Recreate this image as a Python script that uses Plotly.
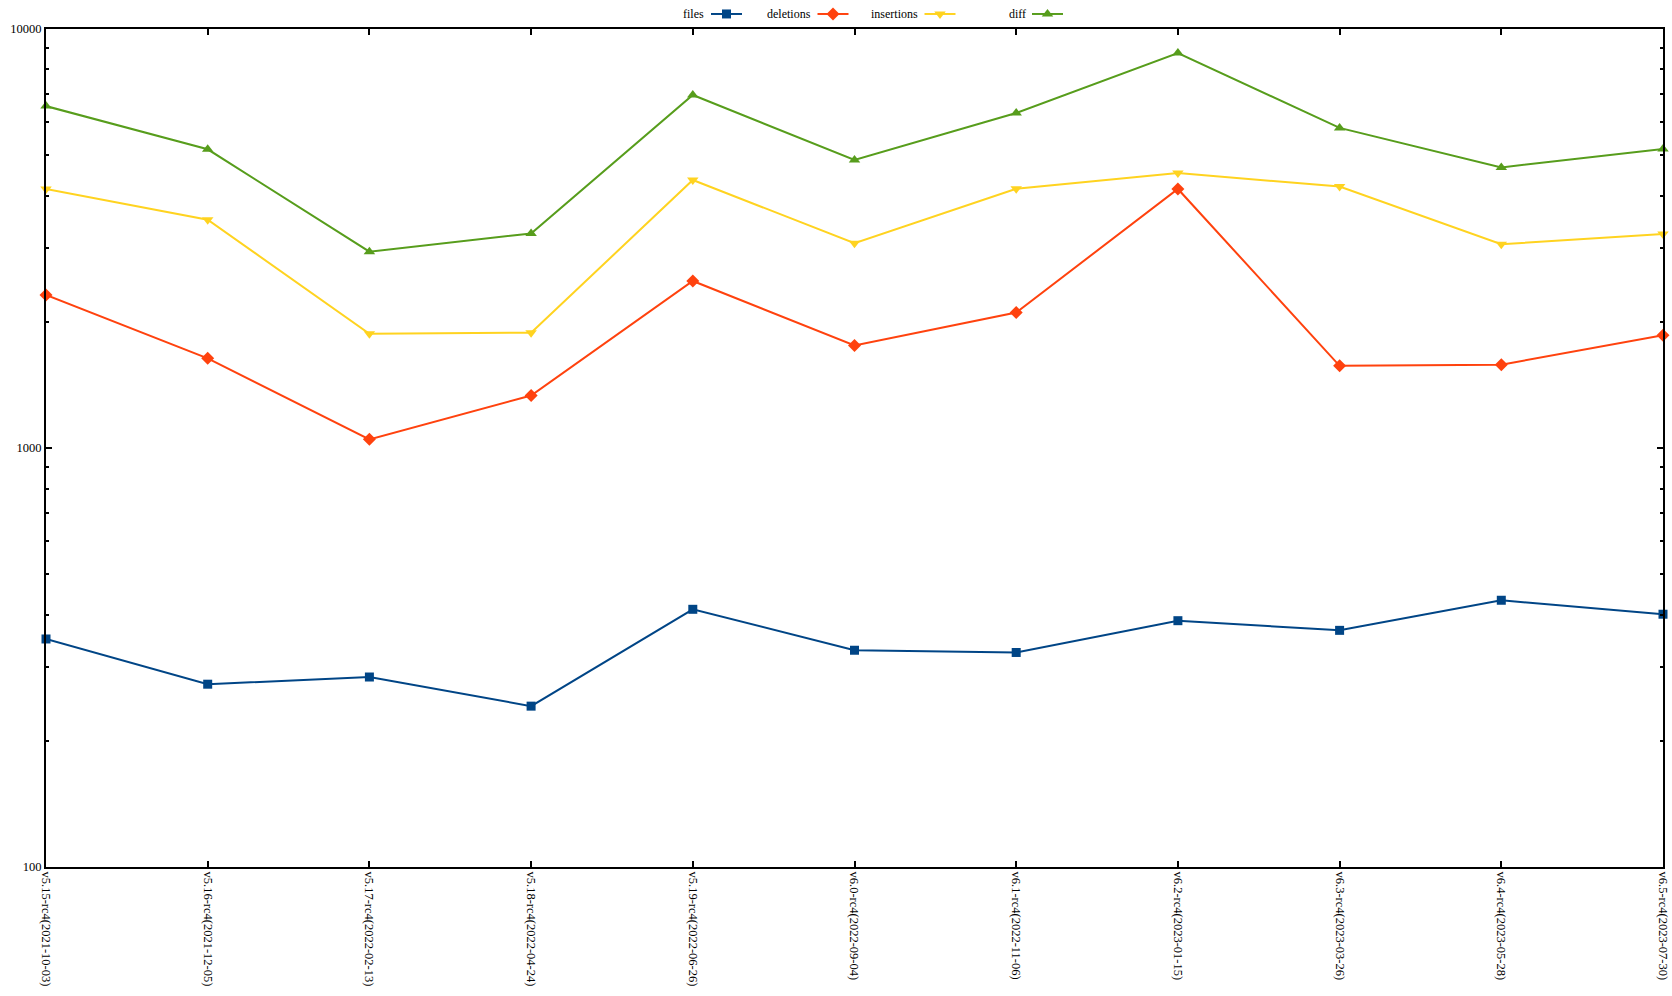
import plotly.graph_objects as go

categories = [
    "v5.15-rc4(2021-10-03)", "v5.16-rc4(2021-12-05)", "v5.17-rc4(2022-02-13)",
    "v5.18-rc4(2022-04-24)", "v5.19-rc4(2022-06-26)", "v6.0-rc4(2022-09-04)",
    "v6.1-rc4(2022-11-06)", "v6.2-rc4(2023-01-15)", "v6.3-rc4(2023-03-26)",
    "v6.4-rc4(2023-05-28)", "v6.5-rc4(2023-07-30)",
]
files = [350, 273, 284, 242, 412, 329, 325, 387, 367, 433, 401]
deletions = [2316, 1636, 1048, 1333, 2502, 1755, 2104, 4148, 1570, 1579, 1858]
insertions = [4148, 3504, 1872, 1883, 4357, 3080, 4152, 4528, 4202, 3062, 3238]
diff = [6540, 5158, 2939, 3248, 6950, 4864, 6295, 8755, 5801, 4670, 5166]

y_ticks = [100, 1000, 10000]
minor_ticks = [v * m for m in (100, 1000) for v in range(2, 10)]

W, H = 1672, 996
L, R, T, B = 46, 9, 28.8, 129
plot_h = H - B
dom_top = (plot_h - T) / plot_h

FONT = "Liberation Serif"
series = [
    ("files", files, "#004586", "square", 9),
    ("deletions", deletions, "#ff420e", "diamond", 10),
    ("insertions", insertions, "#ffd320", "triangle-down", 10),
    ("diff", diff, "#579d1c", "triangle-up", 10),
]

fig = go.Figure()
x = list(range(len(categories)))
for name, vals, color, sym, sz in series:
    fig.add_trace(go.Scatter(
        x=x, y=vals, name=name, mode="lines+markers",
        line=dict(color=color, width=2),
        marker=dict(symbol=sym, size=sz, color=color),
        showlegend=False, cliponaxis=False,
    ))

# manual gnuplot-style key (text left of sample) on a hidden pixel-scaled axis
key_centers = [726.5, 833, 940, 1047.5]
key_text_right = [706, 813, 920, 1028]
for (name, vals, color, sym, sz), cx, tr in zip(series, key_centers, key_text_right):
    fig.add_trace(go.Scatter(
        x=[cx - 15.5, cx + 15.5], y=[13, 13], mode="lines",
        line=dict(color=color, width=2), xaxis="x2", yaxis="y2",
        showlegend=False, hoverinfo="skip", cliponaxis=False,
    ))
    fig.add_trace(go.Scatter(
        x=[cx], y=[13], mode="markers",
        marker=dict(symbol=sym, size=sz, color=color), xaxis="x2", yaxis="y2",
        showlegend=False, hoverinfo="skip", cliponaxis=False,
    ))
    fig.add_annotation(
        x=tr, y=13, xref="x2", yref="y2", text=name, showarrow=False,
        xanchor="right", yanchor="middle",
        font=dict(family=FONT, size=12, color="black"),
    )

fig.update_layout(
    width=W, height=H,
    margin=dict(l=L, r=R, t=0, b=B, pad=0, autoexpand=False),
    paper_bgcolor="white", plot_bgcolor="white",
    font=dict(family=FONT, size=12, color="black"),
    showlegend=False,
    xaxis=dict(
        domain=[0, 1], range=[0, len(categories) - 1], automargin=False,
        tickmode="array", tickvals=x, ticktext=categories, tickangle=90,
        ticks="inside", ticklen=6, tickwidth=1.5, tickcolor="black",
        showline=True, linecolor="black", linewidth=2, mirror="ticks",
        showgrid=False, zeroline=False,
        tickfont=dict(family=FONT, size=12.5, color="black"),
    ),
    yaxis=dict(
        domain=[0, dom_top], type="log", range=[2, 4], automargin=False,
        tickmode="array", tickvals=y_ticks, ticktext=[str(v) for v in y_ticks],
        ticks="inside", ticklen=6, tickwidth=1.5, tickcolor="black",
        minor=dict(tickmode="array", tickvals=minor_ticks, ticks="inside",
                   ticklen=3, tickwidth=1.5, tickcolor="black", showgrid=False),
        showline=True, linecolor="black", linewidth=2, mirror="ticks",
        showgrid=False, zeroline=False,
        tickfont=dict(family=FONT, size=12.5, color="black"),
    ),
    xaxis2=dict(domain=[0, 1], range=[L, W - R], anchor="y2", visible=False,
                fixedrange=True, automargin=False),
    yaxis2=dict(domain=[dom_top + 0.001, 1], range=[26, 0], anchor="x2",
                visible=False, fixedrange=True, automargin=False),
)

fig.write_html("out.html")
